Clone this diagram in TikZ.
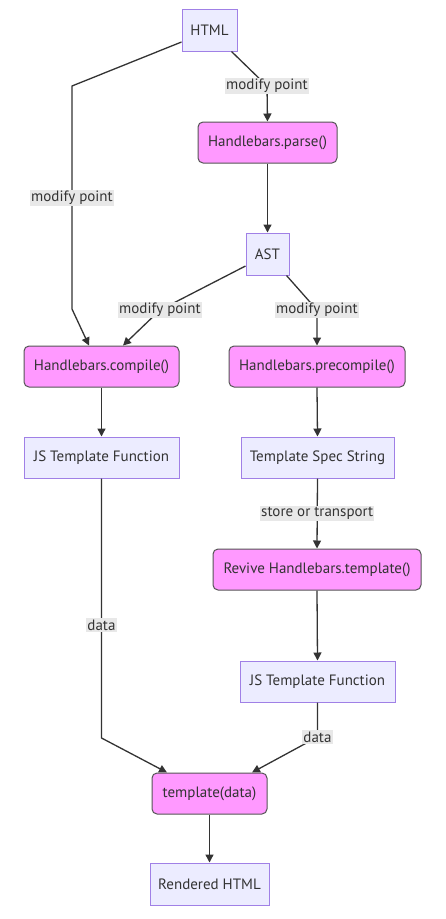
\documentclass[tikz,border=0pt]{standalone}
\usepackage{fontspec}
\setmainfont{PT Sans}
\usetikzlibrary{arrows.meta}
\definecolor{ink}{HTML}{333333}
\definecolor{lavender}{HTML}{ECECFF}
\definecolor{lavenderborder}{HTML}{A080E6}
\definecolor{pink}{HTML}{FF99FF}
\definecolor{pinkborder}{HTML}{555555}
\definecolor{labelfill}{HTML}{E8E8E8}
\tikzset{
  flow/.style={-{Triangle[length=8pt,width=8pt]},draw=ink,line width=1.3pt},
  artifact/.style={draw=lavenderborder,fill=lavender,line width=1pt,minimum height=41pt,inner sep=0pt,text=ink},
  call/.style={draw=pinkborder,fill=pink,line width=1pt,rounded corners=5pt,minimum height=41pt,inner sep=0pt,text=ink},
  link label/.style={fill=labelfill,inner xsep=1pt,inner ysep=1.5pt,text=ink}
}

\begin{document}
\begin{tikzpicture}[x=1pt,y=-1pt,font=\fontsize{15}{17}\selectfont]
  \path[fill=white,use as bounding box] (0,0) rectangle (446,919);

  \node[artifact,minimum width=55,minimum height=42] (html) at (209.5,30) {HTML};
  \node[call,minimum width=139] (parse) at (267.5,142.5) {Handlebars.parse()};
  \node[artifact,minimum width=43,minimum height=42] (ast) at (267.5,254) {AST};
  \node[call,minimum width=155] (compile) at (101.5,366.5) {Handlebars.compile()};
  \node[call,minimum width=176] (precompile) at (317,366.5) {Handlebars.precompile()};
  \node[artifact,minimum width=155] (jsleft) at (101.5,457.5) {JS Template Function};
  \node[artifact,minimum width=153] (spec) at (317.5,457.5) {Template Spec String};
  \node[call,minimum width=208] (revive) at (317,569.5) {Revive Handlebars.template()};
  \node[artifact,minimum width=155] (jsright) at (317.5,681.5) {JS Template Function};
  \node[call,minimum width=115] (render) at (209.5,793.5) {template(data)};
  \node[artifact,minimum width=119,minimum height=42] (rendered) at (209.5,884) {Rendered HTML};

  \draw[flow] ([yshift=-12pt]html.west) -- (72,86) -- (72,198)
    node[link label] {modify point} -- (72,309) -- ([xshift=-12.5pt]compile.north);
  \draw[flow] ([xshift=-6pt]html.south east) -- (267,86)
    node[link label] {modify point} -- (parse.north);
  \draw[flow] (parse.south) -- (ast.north);
  \draw[flow] ([yshift=-12pt]ast.west) -- (160,310)
    node[link label] {modify point} -- ([xshift=21.5pt]compile.north);
  \draw[flow] ([xshift=-3pt]ast.south east) -- (317,310)
    node[link label] {modify point} -- (precompile.north);
  \draw[flow] (compile.south) -- (jsleft.north);
  \draw[flow] (precompile.south) -- (spec.north);
  \draw[flow] (spec.south) -- node[link label] {store or transport} (revive.north);
  \draw[flow] (revive.south) -- (jsright.north);
  \draw[flow] (jsleft.south) -- (101.5,625)
    node[link label] {data} -- (101.5,738) -- ([xshift=-42.5pt]render.north);
  \draw[flow] (jsright.south) -- (317.5,737)
    node[link label] {data} -- ([xshift=42.5pt]render.north);
  \draw[flow] (render.south) -- (rendered.north);
\end{tikzpicture}
\end{document}
